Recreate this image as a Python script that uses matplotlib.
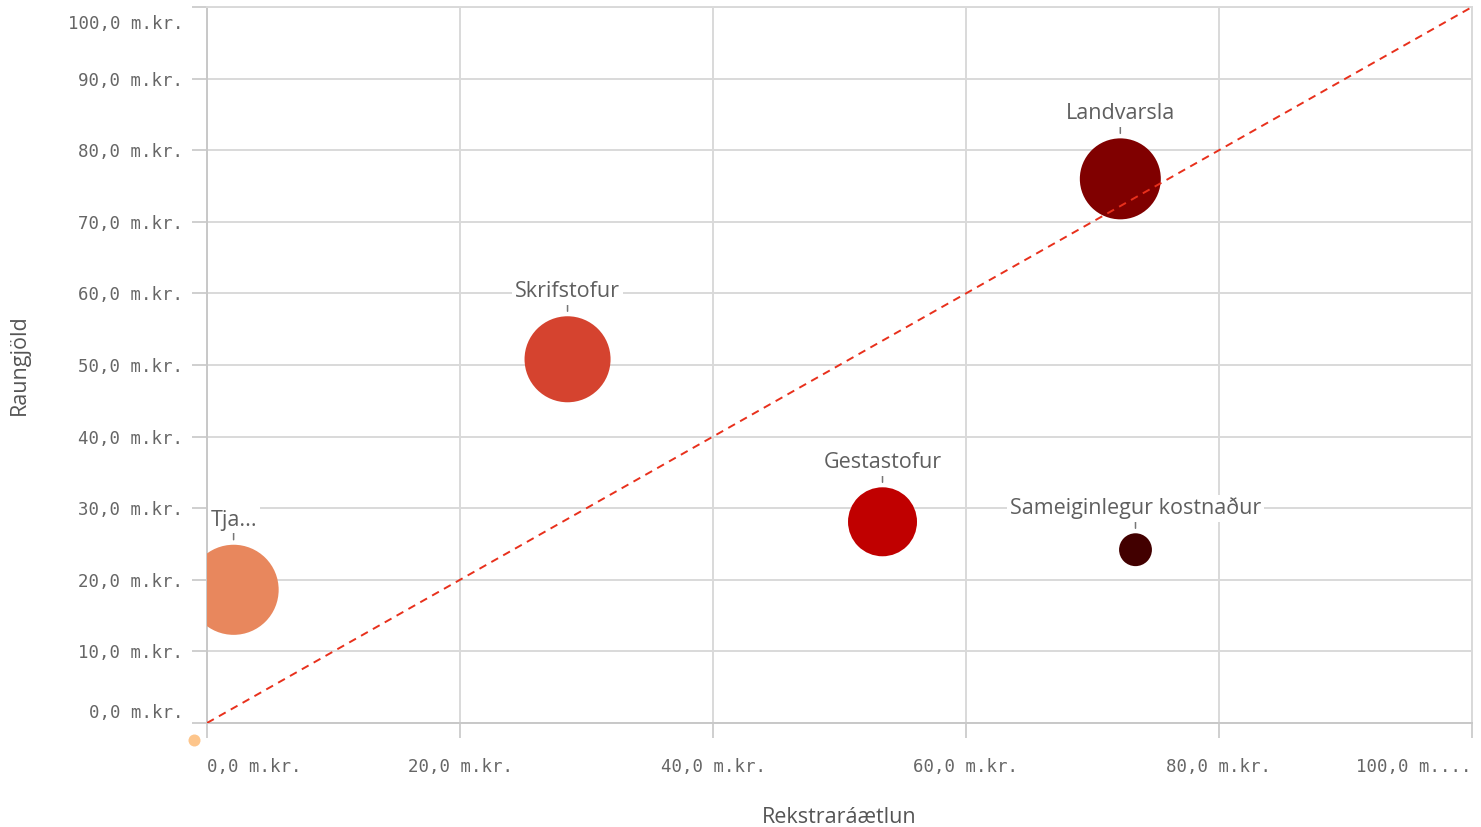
import matplotlib
matplotlib.use("Agg")
import matplotlib.pyplot as plt
import matplotlib.transforms as mtransforms
import numpy as np

# gögn lesin af myndinni (m.kr.)
heiti = ["Tja...", "Skrifstofur", "Gestastofur", "Landvarsla", "Sameiginlegur kostnaður"]
aaetlun = [2.1, 28.5, 53.4, 72.2, 73.4]
raungjold = [18.6, 50.8, 28.1, 76.0, 24.2]
staerd = [20.3, 18.5, 11.9, 16.4, 2.7]
litir = ["#e8875d", "#d5432f", "#c00000", "#800000", "#420000"]

# litli punkturinn fyrir utan ásana
auka_x = [-1.0]
auka_y = [-2.4]
auka_staerd = [0.36]
auka_litur = "#fdc58b"

xticks = [0, 20, 40, 60, 80, 100]
xtick_labels = ["0,0 m.kr.", "20,0 m.kr.", "40,0 m.kr.", "60,0 m.kr.", "80,0 m.kr.", "100,0 m...."]
yticks = [0, 10, 20, 30, 40, 50, 60, 70, 80, 90, 100]
ytick_labels = ["%.1f m.kr." % v for v in yticks]
ytick_labels = [s.replace(".0 ", ",0 ") for s in ytick_labels]

PX = 0.72  # points per pixel at dpi 100
grid_col = "#d9d9d9"
txt_col = "#5f5f5f"
lab_font = ["Open Sans", "DejaVu Sans"]

def radius_px(v):
    return 10 * np.sqrt(v)

fig = plt.figure(figsize=(14.81, 8.27), dpi=100)
ax = fig.add_axes([0.1398, 0.1258, 0.8541, 0.8657])
ax.set_xlim(0, 100)
ax.set_ylim(0, 100)

ax.set_xticks(xticks)
ax.set_xticklabels(xtick_labels)
ax.set_yticks(yticks)
ax.set_yticklabels(ytick_labels)
ax.grid(True, color=grid_col, linewidth=1.4, zorder=0)
ax.set_axisbelow(True)
for sp in ax.spines.values():
    sp.set_color(grid_col)
    sp.set_linewidth(1.4)
ax.spines["left"].set_color("#c8c8c8")
ax.spines["bottom"].set_color("#c8c8c8")

ax.tick_params(axis="both", colors="#cfcfcf", length=15 * PX, width=1.4,
               labelcolor="#666666", labelsize=12.5)
ax.tick_params(axis="y", pad=9 * PX)
ax.tick_params(axis="x", pad=20 * PX)
for lab in ax.get_xticklabels() + ax.get_yticklabels():
    lab.set_fontfamily(["DejaVu Sans Mono"])

# Qlik heldur fyrsta og síðasta merkinu innan ássins
ylabs = ax.get_yticklabels()
ylabs[0].set_transform(ylabs[0].get_transform() + mtransforms.ScaledTranslation(0, 12 / 100, fig.dpi_scale_trans))
ylabs[-1].set_transform(ylabs[-1].get_transform() + mtransforms.ScaledTranslation(0, -15 / 100, fig.dpi_scale_trans))
xlabs = ax.get_xticklabels()
xlabs[0].set_horizontalalignment("left")
xlabs[-1].set_horizontalalignment("right")

# bólur
sizes = [(2 * radius_px(v) * PX) ** 2 for v in staerd]
ax.scatter(aaetlun, raungjold, s=sizes, c=litir, linewidths=0, zorder=3)
ax.scatter(auka_x, auka_y, s=[(2 * radius_px(v) * PX) ** 2 for v in auka_staerd],
           c=auka_litur, linewidths=0, zorder=3, clip_on=False)

# 1:1 lína
ax.plot([0, 100], [0, 100], color="#e8301c", linewidth=1.4, linestyle=(0, (4, 3)), zorder=4)

# merkingar
for x, y, v, t in zip(aaetlun, raungjold, staerd, heiti):
    r = radius_px(v)
    ax.annotate("", xy=(x, y), xytext=(0, (r + 13) * PX), textcoords="offset points",
                arrowprops=dict(arrowstyle="-", color="#777777", lw=1.1,
                                shrinkA=0, shrinkB=(r + 5) * PX), zorder=5)
    ax.annotate(t, xy=(x, y), xytext=(0, (r + 14) * PX), textcoords="offset points",
                ha="center", va="bottom", fontsize=15.5, color=txt_col, family=lab_font,
                bbox=dict(boxstyle="square,pad=0.12", fc="white", ec="none"), zorder=5)

ax.set_xlabel("Rekstraráætlun", fontsize=15.5, color="#555555", family=lab_font, va="center")
ax.set_ylabel("Raungjöld", fontsize=15.5, color="#555555", family=lab_font, va="center")
ax.xaxis.set_label_coords(0.5, -0.132)
ax.yaxis.set_label_coords(-0.148, 0.5)

fig.savefig("out.png", dpi=100)
